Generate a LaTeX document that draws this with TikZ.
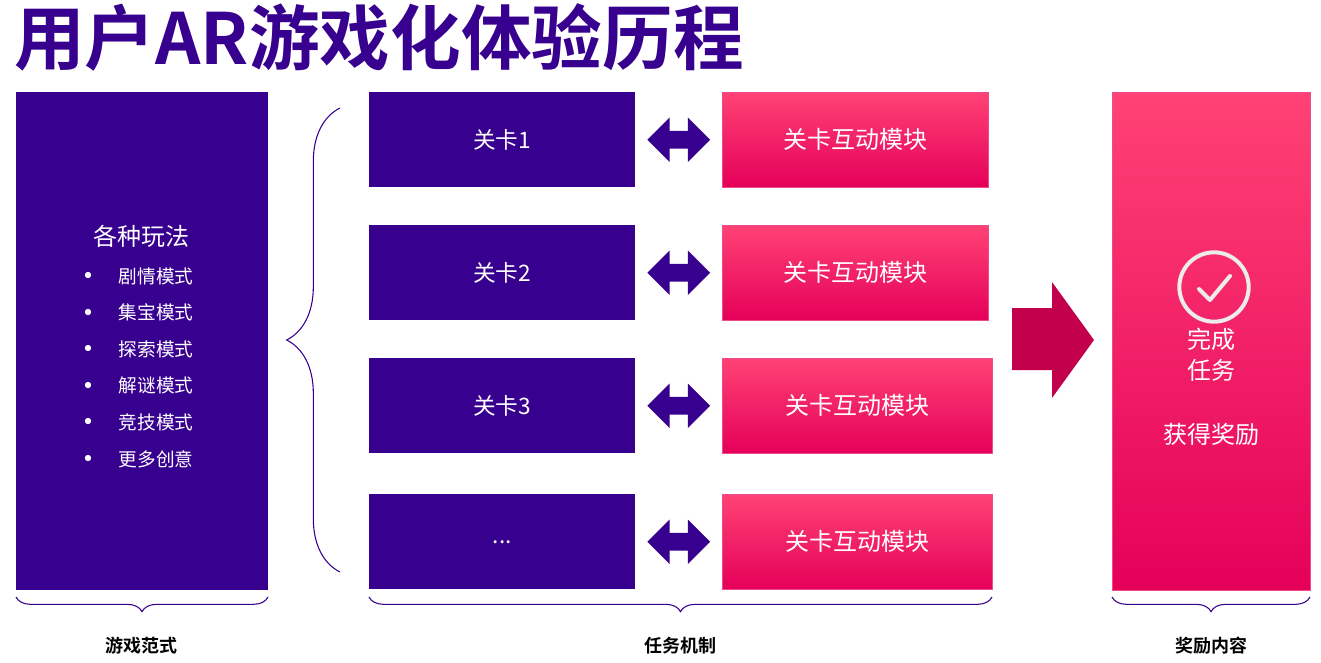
\documentclass[tikz,border=0pt]{standalone}
\usepackage{fontspec}
\newfontfamily\cjk{Noto Sans CJK SC}[BoldFont={Noto Sans CJK SC Bold}]
\usetikzlibrary{calc}
\usetikzlibrary{positioning}
\usetikzlibrary{shapes.arrows}
\usetikzlibrary{decorations.pathreplacing}
\definecolor{deep}{HTML}{38008F}
\definecolor{pinktop}{HTML}{FF4275}
\definecolor{pinkbot}{HTML}{E5005A}
\definecolor{bigarrow}{HTML}{C2004C}
\tikzstyle{playbox} = [fill=deep, anchor=north west, inner sep=0]
\tikzstyle{levelbox} = [fill=deep, anchor=north west, inner sep=0, minimum width=199.5pt, minimum height=71.25pt, text=white, font=\cjk\fontsize{17}{19}\selectfont]
\tikzstyle{modbox} = [anchor=north west, inner sep=0, minimum height=71.25pt, top color=pinktop, bottom color=pinkbot, draw=pinkbot!70!white, text=white, font=\cjk\fontsize{18}{20}\selectfont]
\tikzstyle{linkarrow} = [double arrow, fill=deep, inner sep=6.5pt, minimum height=47pt, double arrow head extend=10pt]
\tikzstyle{grouplabel} = [font=\cjk\bfseries\fontsize{13.5}{15}\selectfont]
\tikzstyle{groupbrace} = [draw=deep, thick, decorate, decoration={brace, amplitude=11pt}]
\begin{document}
\begin{tikzpicture}[x=0.75pt, y=-0.75pt]
\useasboundingbox (0,0) rectangle (1321,663);
% title
\node[anchor=west, text=deep, font=\cjk\bfseries\fontsize{53}{56}\selectfont, inner sep=0] (title) at (14,38) {用户AR游戏化体验历程};
% left column
\node[playbox, minimum width=189pt, minimum height=373.5pt] (play) at (16,92) {};
\node[text=white, font=\cjk\fontsize{18}{20}\selectfont] (playhead) at (141,236) {各种玩法};
\foreach \i/\t in {0/剧情模式,1/集宝模式,2/探索模式,3/解谜模式,4/竞技模式,5/更多创意}{
  \node[text=white, font=\fontsize{12}{12}\selectfont] (dot\i) at (88,276+36.6*\i) {$\bullet$};
  \node[text=white, anchor=west, font=\cjk\fontsize{14}{16}\selectfont] (mode\i) at (114,276+36.6*\i) {\t};
}
% brace
\coordinate (braceb) at (340,572);
\coordinate (bracet) at (340,108);
\draw[draw=deep, thick, decorate, decoration={brace, amplitude=40pt}] (braceb) -- (bracet);
% levels and modules
\foreach \i/\y/\t/\w in {1/92/关卡1/266, 2/225/关卡2/266, 3/358/关卡3/270, 4/494/{...}/270}{
  \node[levelbox] (level\i) at (369,\y) {\t};
  \node[modbox, minimum width=\w*0.75pt] (mod\i) at (722,\y) {关卡互动模块};
  \node[linkarrow] (link\i) at ($(level\i.east)!0.5!(mod\i.west)$) {};
}
% big arrow
\fill[bigarrow] (1012,308) -- (1052,308) -- (1052,282) -- (1094,340) -- (1052,398) -- (1052,370) -- (1012,370) -- cycle;
% reward box
\node[anchor=north west, inner sep=0, minimum width=148.5pt, minimum height=373.5pt, top color=pinktop, bottom color=pinkbot, draw=pinkbot!70!white] (reward) at (1112,92) {};
\draw[white!85!gray, line width=3pt] (1214,287) circle (26pt);
\draw[white!85!gray, line width=3pt, line cap=round, line join=round] (1199,289) -- (1210,300) -- (1230,276);
\node[text=white, align=center, font=\cjk\fontsize{18}{23}\selectfont] (done) at (1211,355) {完成\\任务};
\node[text=white, font=\cjk\fontsize{18}{20}\selectfont] (prize) at (1211,434) {获得奖励};
% bottom braces
\draw[groupbrace] (268,597) -- (16,597);
\draw[groupbrace] (992,597) -- (369,597);
\draw[groupbrace] (1310,597) -- (1112,597);
\node[grouplabel] (g1) at (141,646) {游戏范式};
\node[grouplabel] (g2) at (680,646) {任务机制};
\node[grouplabel] (g3) at (1211,646) {奖励内容};
\end{tikzpicture}
\end{document}
